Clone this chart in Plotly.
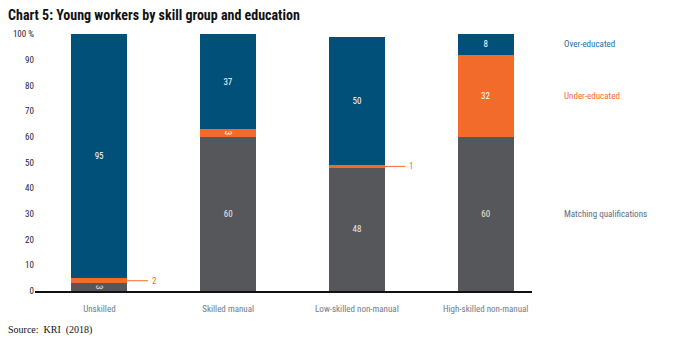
import plotly.graph_objects as go

categories = ["Unskilled", "Skilled manual", "Low-skilled non-manual", "High-skilled non-manual"]
matching = [3, 60, 48, 60]
under = [2, 3, 1, 32]
over = [95, 37, 50, 8]
series_names = ["Matching qualifications", "Under-educated", "Over-educated"]
y_tickvals = [0, 10, 20, 30, 40, 50, 60, 70, 80, 90, 100]
y_ticktext = ["0", "10", "20", "30", "40", "50", "60", "70", "80", "90", "100 %"]

C_GRAY = "#56575b"
C_ORANGE = "#f26b2a"
C_BLUE = "#005079"
BAR_W = 0.434
FONT = "Liberation Sans Narrow, Arial Narrow, Roboto Condensed, sans-serif"

x = list(range(len(categories)))

small_threshold = 2
under_text = [("" if v <= small_threshold else str(v)) for v in under]
match_text_col = ["#e8e8e8", "#e8e8e8", "#e8e8e8", "#f2e8c4"]

fig = go.Figure()
fig.add_trace(go.Bar(x=x, y=matching, width=BAR_W, marker_color=C_GRAY, marker_line_width=0,
                     text=[str(v) for v in matching], textposition="inside", insidetextanchor="middle",
                     textfont=dict(color=match_text_col, size=9, family=FONT), name=series_names[0]))
fig.add_trace(go.Bar(x=x, y=under, width=BAR_W, marker_color=C_ORANGE, marker_line_width=0,
                     text=under_text, textposition="inside", insidetextanchor="middle",
                     textfont=dict(color="white", size=9, family=FONT), name=series_names[1]))
fig.add_trace(go.Bar(x=x, y=over, width=BAR_W, marker_color=C_BLUE, marker_line_width=0,
                     text=[str(v) for v in over], textposition="inside", insidetextanchor="middle",
                     textfont=dict(color="white", size=9, family=FONT), name=series_names[2]))

for i, (m, u) in enumerate(zip(matching, under)):
    if u <= small_threshold:
        ymid = m + u / 2
        x0 = i + BAR_W / 2
        x1 = x0 + 0.16
        fig.add_shape(type="line", xref="x", yref="y", x0=x0, x1=x1, y0=ymid, y1=ymid,
                      line=dict(color=C_ORANGE, width=1))
        fig.add_annotation(xref="x", yref="y", x=x1, y=ymid, text=str(u), showarrow=False,
                           xanchor="left", xshift=2, font=dict(color=C_ORANGE, size=9, family=FONT))

last = len(categories) - 1
mids = [matching[last] / 2,
        matching[last] + under[last] / 2,
        matching[last] + under[last] + over[last] / 2]
label_cols = ["#5b6b82", C_ORANGE, "#1f6c9c"]
for name, ym, col in zip(series_names, mids, label_cols):
    fig.add_annotation(xref="paper", yref="y", x=1.06, y=ym, text=name, showarrow=False,
                       xanchor="left", font=dict(color=col, size=9, family=FONT))

fig.update_layout(
    width=675, height=342,
    barmode="stack", showlegend=False,
    plot_bgcolor="white", paper_bgcolor="white",
    margin=dict(l=35, r=143, t=34, b=51),
    uniformtext=dict(minsize=8, mode="show"),
    title=dict(text="<b>Chart 5: Young workers by skill group and education</b>",
               x=0.012, xanchor="left", y=0.97, yanchor="top",
               font=dict(size=14, color="#111111", family=FONT)),
    font=dict(family=FONT),
)
fig.add_annotation(xref="paper", yref="paper", x=-0.058, y=-0.12, xanchor="left", yanchor="top",
                   text="Source:  KRI  (2018)", showarrow=False,
                   font=dict(family="Liberation Serif, Times New Roman, serif", size=10, color="#111111"))

fig.update_xaxes(tickvals=x, ticktext=categories, range=[-0.5, 3.36],
                 showline=True, linecolor="#111111", linewidth=1.5, showgrid=False, zeroline=False,
                 ticks="", ticklabelstandoff=8, tickfont=dict(size=9, color="#707a8a", family=FONT))
fig.update_yaxes(range=[0, 100], tickvals=y_tickvals, ticktext=y_ticktext,
                 showline=False, showgrid=False, zeroline=False, ticks="",
                 tickfont=dict(size=9, color="#1c2538", family=FONT))

fig.write_html("out.html")
